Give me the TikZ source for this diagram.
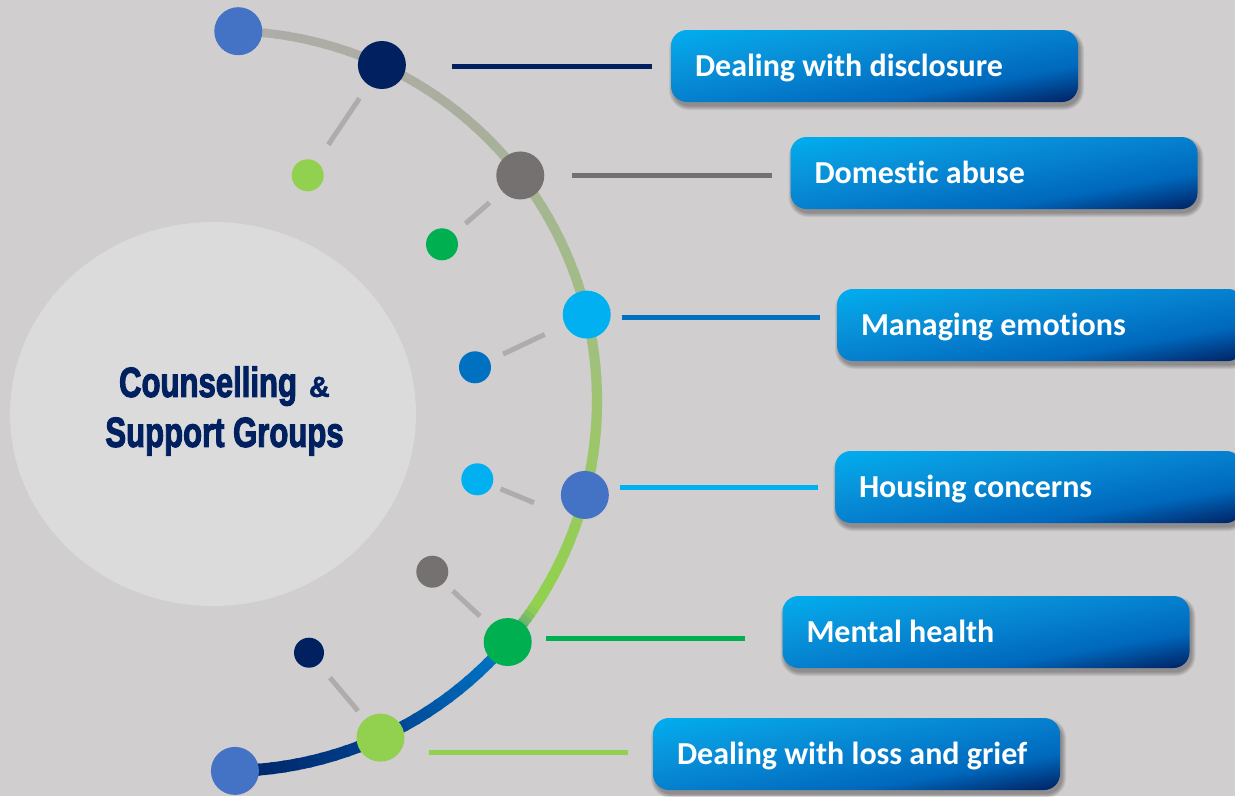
\documentclass[tikz,border=0pt]{standalone}
\usepackage{fontspec}
\usetikzlibrary{calc}
\newfontfamily\boxfontfam{Carlito}[Ligatures={NoCommon}]
\newfontfamily\titlefontfam{Liberation Sans Bold}[FakeBold=3]
\newfontfamily\ampfontfam{Liberation Sans Bold}[FakeBold=1.5]
\definecolor{bgc}{HTML}{D0CECF}
\definecolor{circc}{HTML}{DBDBDB}
\definecolor{dotblue}{HTML}{4472C4}
\definecolor{navyc}{HTML}{002060}
\definecolor{greyc}{HTML}{767171}
\definecolor{cyanc}{HTML}{00B0F0}
\definecolor{greenc}{HTML}{00B050}
\definecolor{lgreenc}{HTML}{92D050}
\definecolor{blue2c}{HTML}{0070C0}
\definecolor{connc}{HTML}{AFACAB}
\definecolor{a1}{HTML}{AEADA9}
\definecolor{a2}{HTML}{AAAE9E}
\definecolor{a3}{HTML}{A5B78F}
\definecolor{a4}{HTML}{A2BE83}
\definecolor{a5}{HTML}{9EC472}
\definecolor{a6}{HTML}{99C862}
\definecolor{a7}{HTML}{92D050}
\definecolor{a8}{HTML}{2A88A0}
\definecolor{a9}{HTML}{0070C0}
\definecolor{a10}{HTML}{00428F}
\definecolor{a11}{HTML}{002466}
\definecolor{bxA}{HTML}{00AEEF}
\definecolor{bxQ}{HTML}{0896DC}
\definecolor{bxB}{HTML}{0580CE}
\definecolor{bxM}{HTML}{0068BC}
\definecolor{bxN}{HTML}{00448F}
\definecolor{bxC}{HTML}{002060}
\pgfdeclarehorizontalshading{boxshade}{100bp}{color(0bp)=(bxA); color(25bp)=(bxA); color(37.5bp)=(bxQ); color(50bp)=(bxB); color(62.5bp)=(bxM); color(68.75bp)=(bxN); color(75bp)=(bxC); color(100bp)=(bxC)}
\newcommand\arcpiece[5]{%
  \foreach \i in {1,...,#5}{%
    \pgfmathsetmacro\aa{#1+(#2-#1)*(\i-1)/#5}%
    \pgfmathsetmacro\ab{#1+(#2-#1)*\i/#5-0.4}%
    \pgfmathtruncatemacro\pc{100*(\i-0.5)/#5}%
    \pgfmathsetmacro\lw{8.5+3.5*(88.25-\aa)/177}%
    \draw[line width=\lw pt, draw=#4!\pc!#3] ($(C)+(\aa:370)$) arc[start angle=\aa, end angle=\ab, radius=370];
  }}
% shaded rounded box with soft shadow, then its named text node
\newcommand\boxat[4]{%
  \foreach \k in {0,1,2,3,4}{%
    \fill[black, opacity=0.07, rounded corners={16pt+\k pt}]
      ({#2-203.5-\k+2},{#3-36-\k-4}) rectangle ({#2+203.5+\k+2},{#3+36+\k-4});}
  \begin{scope}
    \clip[rounded corners=16pt] ({#2-203.5},{#3-36}) rectangle ({#2+203.5},{#3+36});
    \shade[shading=boxshade, transform canvas={shift={(#2,#3)}, xscale=5.734, yscale=1.0144, rotate=-45}]
      (-50bp,-50bp) rectangle (50bp,50bp);
  \end{scope}
  \node[box] (#1) at (#2,#3) {\makebox[359pt][l]{#4}};}
\tikzset{
  bigdot/.style={circle, minimum size=48pt, inner sep=0pt, draw=none},
  smalldot/.style={circle, minimum size=32pt, inner sep=0pt, draw=none},
  conn/.style={draw=connc, line width=5pt},
  hline/.style={line width=5pt},
  box/.style={rectangle, rounded corners=16pt, minimum width=407pt, minimum height=72pt,
    inner xsep=24pt, inner ysep=0pt, text height=21pt, text depth=0pt, text=white,
    font=\boxfontfam\bfseries\fontsize{32}{38}\selectfont},
  titletext/.style={align=center, text=navyc, inner sep=0pt,
    font=\titlefontfam\fontsize{42}{50}\selectfont}
}
\begin{document}
\begin{tikzpicture}[x=1pt,y=1pt]
\clip (0,0) rectangle (1235,-796);
\fill[bgc] (0,0) rectangle (1235,-796);
\fill[circc] (213,-414) ellipse [x radius=203, y radius=192];
\node[titletext] (title) at (224.5,-411) {\scalebox{0.74}[1]{Counselling}\hspace{12pt}{\ampfontfam\fontsize{29}{29}\selectfont\&}\\\scalebox{0.74}[1]{Support Groups}};
\coordinate (C) at (227,-401);
% gradient arc
\arcpiece{88.25}{50}{a1}{a2}{20}
\arcpiece{50}{30}{a2}{a3}{10}
\arcpiece{30}{13}{a3}{a4}{9}
\arcpiece{13}{0}{a4}{a5}{7}
\arcpiece{0}{-14}{a5}{a6}{7}
\arcpiece{-14}{-28}{a6}{a7}{7}
\arcpiece{-28}{-34}{a7}{a7}{3}
\arcpiece{-34}{-41}{a7}{a8}{8}
\arcpiece{-41}{-45}{a8}{a9}{4}
\arcpiece{-45}{-65}{a9}{a10}{10}
\arcpiece{-65}{-88.77}{a10}{a11}{12}
% big dots on the arc
\node[bigdot, fill=dotblue] (e1) at ($(C)+(88.25:370)$) {};
\node[bigdot, fill=navyc] (n1) at ($(C)+(65.25:370)$) {};
\node[bigdot, fill=greyc] (n2) at ($(C)+(37.56:370)$) {};
\node[bigdot, fill=cyanc] (n3) at ($(C)+(13.51:370)$) {};
\node[bigdot, fill=dotblue] (n4) at ($(C)+(-14.71:370)$) {};
\node[bigdot, fill=greenc] (n5) at ($(C)+(-40.65:370)$) {};
\node[bigdot, fill=lgreenc] (n6) at ($(C)+(-65.49:370)$) {};
\node[bigdot, fill=dotblue] (e2) at ($(C)+(-88.77:370)$) {};
% small dots
\node[smalldot, fill=lgreenc] (s1) at (307.7,-175.3) {};
\node[smalldot, fill=greenc] (s2) at (442,-244.3) {};
\node[smalldot, fill=blue2c] (s3) at (475,-367.3) {};
\node[smalldot, fill=cyanc] (s4) at (477.3,-479.3) {};
\node[smalldot, fill=greyc] (s5) at (432.3,-571.7) {};
\node[smalldot, fill=navyc, minimum size=30pt] (s6) at (309,-652.7) {};
\coordinate (c4end) at (534,-502.7);
% connectors between big and small dots
\draw[conn, shorten <=16pt, shorten >=20.7pt] (n1) -- (s1);
\draw[conn, shorten <=16.8pt, shorten >=15.1pt] (n2) -- (s2);
\draw[conn, shorten <=22.3pt, shorten >=14.9pt] (n3) -- (s3);
\draw[conn, shorten <=9pt] (s4) -- (c4end);
\draw[conn, shorten <=13.8pt, shorten >=11.9pt] (n5) -- (s5);
\draw[conn, shorten <=10.7pt, shorten >=17.4pt] (n6) -- (s6);
% boxes
\boxat{b1}{874.5}{-66}{Dealing with disclosure}
\boxat{b2}{994}{-173}{Domestic abuse}
\boxat{b3}{1040.5}{-325}{Managing emotions}
\boxat{b4}{1038.5}{-487}{Housing concerns}
\boxat{b5}{986}{-632}{Mental health}
\boxat{b6}{856.5}{-754}{Dealing with loss and grief}
% horizontal lines from dots towards boxes
\draw[hline, navyc] ([xshift=46pt]n1.east |- b1.west) -- ([xshift=-19pt]b1.west);
\draw[hline, greyc] ([xshift=28pt]n2.east) -- ([xshift=-18pt]n2.east -| b2.west);
\draw[hline, blue2c] ([xshift=11pt,yshift=-3pt]n3.east) -- ++(198,0);
\draw[hline, cyanc] ([xshift=11pt]n4.east |- b4.west) -- ([xshift=-17pt]b4.west);
\draw[hline, greenc] ([xshift=14pt,yshift=4pt]n5.east) -- ++(199,0);
\draw[hline, lgreenc] ([xshift=24pt,yshift=-15pt]n6.east) -- ++(199,0);
\end{tikzpicture}
\end{document}
